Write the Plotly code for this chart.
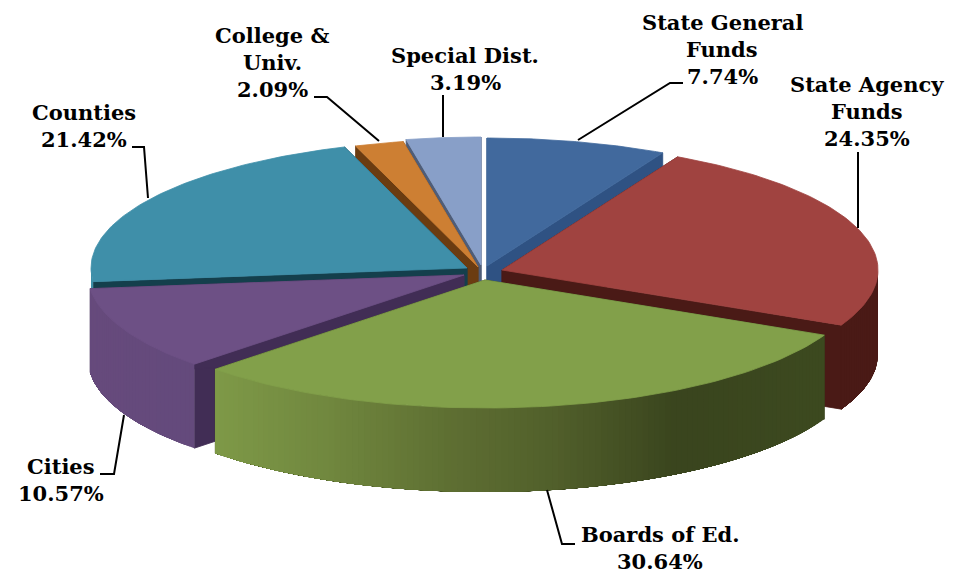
import numpy as np

import plotly.graph_objects as go

# clockwise from 12 o'clock
categories = ['State General Funds', 'State Agency Funds', 'Boards of Ed.', 'Cities',
              'Counties', 'College & Univ.', 'Special Dist.']
shares = [7.74, 24.35, 30.64, 10.57, 21.42, 2.09, 3.19]

label_lines = [['State General', 'Funds', '7.74%'],
               ['State Agency', 'Funds', '24.35%'],
               ['Boards of Ed.', '30.64%'],
               ['Cities', '10.57%'],
               ['Counties', '21.42%'],
               ['College &', 'Univ.', '2.09%'],
               ['Special Dist.', '3.19%']]

# pie geometry in pixels, the axes below map 1:1 on the page
RX, RY, DEPTH = 376, 128, 84
apex = [(487, 266), (502, 270), (485, 280), (464, 275), (467, 268), (478, 267), (481, 265)]
draw_order = [6, 5, 0, 4, 1, 3, 2]

top_colors = ['#41699d', '#a04340', '#82a04a', '#6d5085', '#3f8fa9', '#cd7f33', '#889fc8']
face_colors = ['#2f5283', '#4a1a16', '#3a451e', '#412d55', '#143f4c', '#6b3c11', '#4f5d78']
# wall colour stops, by x pixel
wall_stops = {
    1: [(800, '#4a1a16'), (880, '#4a1a16')],
    2: [(215, '#7f9a48'), (330, '#71883f'), (450, '#5f7033'), (560, '#515f2b'),
        (680, '#3a451e'), (826, '#3d4a20')],
    3: [(90, '#674a7c'), (195, '#644a7c')],
    4: [(90, '#3f8fa9'), (100, '#3f8fa9')],
}

label_pos = [(722, 22), (867, 84), (660, 534), (61, 466), (84, 112), (272, 35), (465, 55)]
LINE_STEP = 27
leaders = [[(578, 140), (670, 83), (683, 83)],
           [(858, 228), (858, 152)],
           [(547, 490), (562, 544), (575, 544)],
           [(124, 415), (114, 474), (100, 474)],
           [(148, 198), (144, 147), (132, 147)],
           [(379, 141), (327, 97), (314, 97)],
           [(443, 137), (443, 95)]]


def rim(ax, ay, t):
    return ax + RX * np.sin(t), ay - RY * np.cos(t)


def poly(fig, xs, ys, color, width=0.8):
    fig.add_scatter(x=list(xs), y=list(ys), mode='lines', fill='toself', fillcolor=color,
                    line=dict(color=color, width=width), hoverinfo='skip', showlegend=False)


def wall_color(stops, x):
    px = [s[0] for s in stops]
    rgb = [[int(s[1][i:i + 2], 16) for i in (1, 3, 5)] for s in stops]
    return 'rgb(%d,%d,%d)' % tuple(np.interp(x, px, [c[k] for c in rgb]) for k in range(3))


edges = np.cumsum([0] + shares) / sum(shares) * 2 * np.pi

fig = go.Figure()

for i in draw_order:
    ax, ay = apex[i]
    t0, t1 = edges[i], edges[i + 1]

    # radial cut faces
    for t in (t0, t1):
        rx, ry = rim(ax, ay, t)
        poly(fig, [ax, rx, rx, ax, ax], [ay, ry, ry + DEPTH, ay + DEPTH, ay], face_colors[i])

    # outer wall, only the part that faces the viewer
    # each band runs on under the next one so no seams show between them
    a, b = max(t0, np.pi / 2), min(t1, 3 * np.pi / 2)
    if i in wall_stops and b > a:
        ts = np.linspace(a, b, max(int((b - a) * 60), 3))
        for s0 in ts[:-1]:
            band = np.linspace(s0, b, 40)
            xs, ys = rim(ax, ay, band)
            poly(fig, [*xs, *xs[::-1], xs[0]], [*ys, *(ys[::-1] + DEPTH), ys[0]],
                 wall_color(wall_stops[i], xs[0]), width=0)

    # top
    ts = np.linspace(t0, t1, 80)
    xs, ys = rim(ax, ay, ts)
    poly(fig, [ax, *xs, ax], [ay, *ys, ay], top_colors[i])

for leader in leaders:
    fig.add_scatter(x=[p[0] for p in leader], y=[p[1] for p in leader], mode='lines',
                    line=dict(color='#000000', width=2), hoverinfo='skip', showlegend=False)

for lines, (lx, ly) in zip(label_lines, label_pos):
    for n, text in enumerate(lines):
        fig.add_annotation(x=lx, y=ly + n * LINE_STEP, text='<b>%s</b>' % text, showarrow=False,
                           font=dict(family='DejaVu Serif', size=21, color='#000000'))

fig.update_layout(width=957, height=574, margin=dict(l=0, r=0, t=0, b=0),
                  paper_bgcolor='white', plot_bgcolor='white', showlegend=False)
fig.update_xaxes(range=[0, 957], visible=False, fixedrange=True)
fig.update_yaxes(range=[574, 0], visible=False, fixedrange=True)

fig.write_html("out.html", config=dict(displayModeBar=False),
               post_script="document.body.style.margin = '0';")
